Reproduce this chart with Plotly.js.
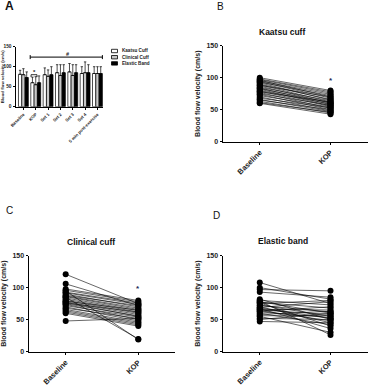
<!DOCTYPE html>
<html>
<head>
<meta charset="utf-8">
<script src="https://cdn.plot.ly/plotly-3.0.1.min.js"></script>
<style>html,body{margin:0;padding:0;background:#fff;}#chart{width:368px;height:385px;}</style>
</head>
<body>
<div id="chart"></div>
<script>
// ---- Panel A data ----
const timepoints = ['Baseline', 'KOP', 'Set 1', 'Set 2', 'Set 3', 'Set 4', '5 min post-exercise'];
const kaatsuMean = [81, 60, 80, 85, 87, 83, 83];
const kaatsuSD = [10, 14, 17, 20, 21, 17, 17];
const clinicalMean = [80, 55, 76, 78, 78, 85, 83];
const clinicalSD = [15, 20, 16, 27, 27, 27, 17];
const elasticMean = [73, 60, 80, 85, 85, 85, 83];
const elasticSD = [14, 17, 20, 20, 20, 20, 17];
const seriesNames = ['Kaatsu Cuff', 'Clinical Cuff', 'Elastic Band'];

// ---- Panels B-D data (paired subjects) ----
const conditions = ['Baseline', 'KOP'];
const kaatsuBaseline = [100, 98, 97, 96, 95, 94, 93, 92, 90, 89, 88, 87, 85, 84, 83, 82, 80, 79, 78, 77, 75, 74, 72, 70, 68, 66, 65, 63, 61, 60];
const kaatsuKOP      = [80, 78, 76, 70, 74, 68, 72, 65, 66, 62, 70, 60, 64, 58, 61, 56, 59, 55, 62, 52, 57, 50, 54, 48, 53, 47, 50, 45, 46, 43];
const clinicalBaseline = [121, 106, 98, 96, 95, 93, 92, 90, 88, 87, 86, 85, 84, 82, 80, 79, 78, 77, 76, 75, 74, 72, 70, 68, 66, 64, 62, 60, 48];
const clinicalKOP      = [75, 72, 80, 78, 19, 76, 74, 70, 72, 68, 66, 20, 64, 62, 60, 65, 58, 55, 62, 56, 50, 54, 48, 52, 46, 44, 42, 40, 52];
const elasticBaseline = [108, 100, 97, 93, 82, 80, 79, 78, 77, 76, 75, 73, 72, 70, 69, 68, 67, 66, 65, 64, 63, 62, 60, 58, 56, 55, 52, 50, 47];
const elasticKOP      = [75, 82, 95, 85, 50, 73, 26, 60, 68, 40, 80, 55, 62, 45, 78, 52, 36, 65, 58, 48, 70, 53, 42, 63, 56, 30, 50, 60, 45];
const panelTitles = ['Kaatsu cuff', 'Clinical cuff', 'Elastic band'];
const yTitle = 'Blood flow velocity (cm/s)';

const FONT = 'Liberation Sans, Arial, sans-serif';

function pairedTrace(base, kop, xa, ya) {
  const xs = [], ys = [];
  for (let i = 0; i < base.length; i++) {
    xs.push(conditions[0], conditions[1], null);
    ys.push(base[i], kop[i], null);
  }
  return {
    type: 'scatter', mode: 'lines+markers', x: xs, y: ys, xaxis: xa, yaxis: ya,
    connectgaps: false, showlegend: false, hoverinfo: 'skip',
    line: {color: '#000', width: 0.6},
    marker: {color: '#000', size: 6}
  };
}

const barColors = ['#ffffff', '#c8c8c8', '#000000'];
const means = [kaatsuMean, clinicalMean, elasticMean];
const sds = [kaatsuSD, clinicalSD, elasticSD];
const data = [];
for (let s = 0; s < 3; s++) {
  data.push({
    type: 'bar', x: timepoints, y: means[s], name: seriesNames[s], xaxis: 'x', yaxis: 'y',
    showlegend: false, hoverinfo: 'skip',
    marker: {color: barColors[s], line: {color: '#000', width: 0.7}},
    error_y: {type: 'data', symmetric: false, array: sds[s], arrayminus: sds[s].map(() => 0),
              color: '#000', thickness: 0.7, width: 1.2}
  });
}
data.push(pairedTrace(kaatsuBaseline, kaatsuKOP, 'x2', 'y2'));
data.push(pairedTrace(clinicalBaseline, clinicalKOP, 'x3', 'y3'));
data.push(pairedTrace(elasticBaseline, elasticKOP, 'x4', 'y4'));

function xAx(domain, range, fs, anchor, cats) {
  return {domain: domain, range: range, anchor: anchor, type: 'category', categoryorder: 'array', categoryarray: cats,
    showline: true, linecolor: '#000', linewidth: 1, ticks: 'outside', ticklen: 2.5, tickwidth: 1, tickcolor: '#000',
    showgrid: false, zeroline: false, tickangle: -45, automargin: false,
    tickfont: {family: FONT, size: fs, color: '#222', weight: 'bold'}};
}
function yAx(domain, fs, tfs, anchor, standoff) {
  return {domain: domain, range: [0, 150], anchor: anchor, dtick: 50, tick0: 0,
    showline: true, linecolor: '#000', linewidth: 1, ticks: 'outside', ticklen: 2.5, tickwidth: 1, tickcolor: '#000',
    showgrid: false, zeroline: false, automargin: false,
    tickfont: {family: FONT, size: fs, color: '#222', weight: 'bold'},
    title: {text: yTitle, font: {family: FONT, size: tfs, color: '#222', weight: 'bold'}, standoff: standoff}};
}

const W = 368, H = 385;
const px = v => v / W, py = v => 1 - v / H;

const layout = {
  width: W, height: H, margin: {l: 0, r: 0, t: 0, b: 0},
  paper_bgcolor: '#fff', plot_bgcolor: 'rgba(0,0,0,0)',
  showlegend: false, barmode: 'group', bargap: 0.2, bargroupgap: 0,
  font: {family: FONT, color: '#222'},
  xaxis: xAx([px(16), px(103)], [-0.6, 6.45], 4.3, 'y', timepoints),
  yaxis: yAx([py(106.7), py(46.7)], 4.8, 4.3, 'x', 2),
  xaxis2: xAx([px(223), 1], [-0.52, 1.53], 7.5, 'y2', conditions),
  yaxis2: yAx([py(141.7), py(45.7)], 7, 7, 'x2', 4),
  xaxis3: xAx([px(29), px(175)], [-0.505, 1.505], 7.5, 'y3', conditions),
  yaxis3: yAx([py(351.7), py(255.7)], 7, 7, 'x3', 4),
  xaxis4: xAx([px(223), 1], [-0.52, 1.53], 7.5, 'y4', conditions),
  yaxis4: yAx([py(351.5), py(255.7)], 7, 7, 'x4', 4),
  shapes: [
    // bracket over Set 1 .. 5 min
    {type: 'line', xref: 'x', yref: 'y', x0: 0.55, x1: 6.4, y0: 124, y1: 124, line: {color: '#000', width: 1}},
    {type: 'line', xref: 'x', yref: 'y', x0: 0.55, x1: 0.55, y0: 119, y1: 129, line: {color: '#000', width: 1}},
    {type: 'line', xref: 'x', yref: 'y', x0: 6.4, x1: 6.4, y0: 119, y1: 129, line: {color: '#000', width: 1}},
    // KOP bracket
    {type: 'path', xref: 'x', yref: 'y', path: 'M 0.62 74 L 0.62 80 L 1.1 80 L 1.1 74', line: {color: '#000', width: 0.8}},
  ],
  annotations: []
};

// legend for panel A (manual)
const legY = [51, 57.2, 63.4];
for (let s = 0; s < 3; s++) {
  layout.shapes.push({type: 'rect', xref: 'paper', yref: 'paper', x0: px(111.5), x1: px(117.5),
    y0: py(legY[s] + 1.7), y1: py(legY[s] - 1.7), fillcolor: barColors[s], line: {color: '#000', width: 0.8}});
  layout.annotations.push({xref: 'paper', yref: 'paper', x: px(120), y: py(legY[s]), xanchor: 'left', yanchor: 'middle',
    text: seriesNames[s], showarrow: false, font: {family: FONT, size: 4.6, color: '#222', weight: 'bold'}});
}

const ann = (x, y, text, size, weight, extra) => Object.assign({xref: 'paper', yref: 'paper', x: px(x), y: py(y),
  xanchor: 'center', yanchor: 'middle', text: text, showarrow: false,
  font: {family: FONT, size: size, color: '#111', weight: weight}}, extra || {});

layout.annotations.push(
  ann(9, 6.5, 'A', 12, 'bold'),
  ann(220, 6, 'B', 10, 'normal'),
  ann(9.5, 211, 'C', 10, 'normal'),
  ann(216, 215, 'D', 10, 'normal'),
  ann(282, 31.7, panelTitles[0], 8.5, 'bold'),
  ann(90.7, 241.7, panelTitles[1], 8.5, 'bold'),
  ann(283, 240.7, panelTitles[2], 8.5, 'bold'),
  {xref: 'x', yref: 'y', x: 3.6, y: 132, text: '#', showarrow: false, font: {family: FONT, size: 5.5, color: '#222', weight: 'bold'}},
  {xref: 'x', yref: 'y', x: 0.86, y: 88, text: '*', showarrow: false, font: {family: FONT, size: 6, color: '#222', weight: 'bold'}},
  {xref: 'x2', yref: 'y2', x: 1, y: 96, text: '*', showarrow: false, font: {family: FONT, size: 8, color: '#1a2a55', weight: 'bold'}},
  {xref: 'x3', yref: 'y3', x: 1, y: 99, text: '*', showarrow: false, font: {family: FONT, size: 8, color: '#1a2a55', weight: 'bold'}}
);

Plotly.newPlot('chart', data, layout, {staticPlot: true, displayModeBar: false});
</script>
</body>
</html>
